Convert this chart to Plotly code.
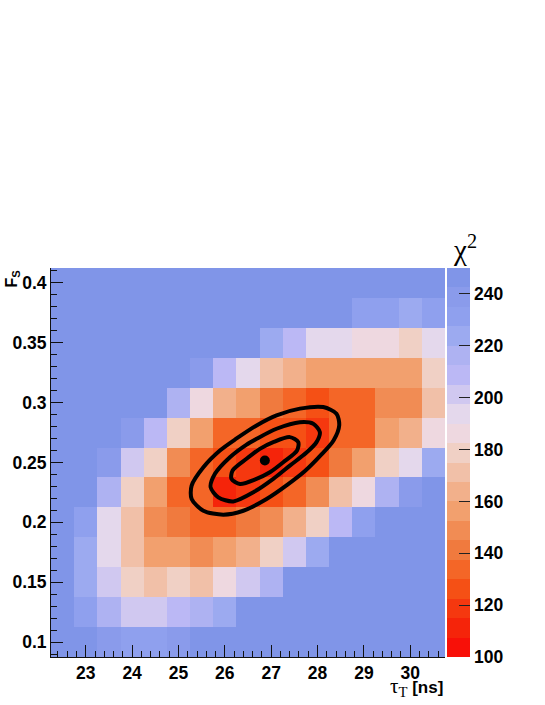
import plotly.graph_objects as go

tau_values = [22.5, 23.0, 23.5, 24.0, 24.5, 25.0, 25.5, 26.0, 26.5, 27.0, 27.5, 28.0, 28.5, 29.0, 29.5, 30.0, 30.5]
fs_values = [0.1, 0.125, 0.15, 0.175, 0.2, 0.225, 0.25, 0.275, 0.3, 0.325, 0.35, 0.375, 0.4]

chi2_row_010 = [246, 246, 239, 231, 231, 239, 246, 246, 246, 246, 246, 246, 246, 246, 246, 246, 246]
chi2_row_0125 = [246, 231, 216, 201, 201, 209, 216, 224, 246, 246, 246, 246, 246, 246, 246, 246, 246]
chi2_row_015 = [246, 224, 201, 179, 171, 179, 171, 186, 201, 216, 246, 246, 246, 246, 246, 246, 246]
chi2_row_0175 = [246, 224, 194, 171, 156, 156, 149, 156, 164, 179, 201, 224, 246, 246, 246, 246, 246]
chi2_row_020 = [246, 231, 194, 171, 149, 141, 134, 134, 141, 149, 164, 179, 209, 231, 246, 246, 246]
chi2_row_0225 = [246, 246, 216, 179, 156, 134, 134, 111, 119, 126, 134, 149, 171, 186, 216, 239, 246]
chi2_row_025 = [246, 246, 239, 201, 179, 149, 134, 126, 119, 111, 119, 126, 141, 156, 179, 194, 224]
chi2_row_0275 = [246, 246, 246, 239, 209, 179, 156, 134, 134, 126, 126, 119, 134, 134, 156, 164, 186]
chi2_row_030 = [246, 246, 246, 246, 246, 216, 186, 164, 156, 141, 134, 126, 134, 134, 149, 149, 171]
chi2_row_0325 = [246, 246, 246, 246, 246, 246, 239, 209, 194, 171, 164, 156, 156, 156, 156, 156, 179]
chi2_row_035 = [246, 246, 246, 246, 246, 246, 246, 246, 246, 224, 209, 194, 194, 186, 186, 179, 194]
chi2_row_0375 = [246, 246, 246, 246, 246, 246, 246, 246, 246, 246, 246, 246, 246, 231, 231, 224, 231]
chi2_row_040 = [246] * 17

chi2_grid = [chi2_row_010, chi2_row_0125, chi2_row_015, chi2_row_0175, chi2_row_020, chi2_row_0225,
             chi2_row_025, chi2_row_0275, chi2_row_030, chi2_row_0325, chi2_row_035, chi2_row_0375, chi2_row_040]

palette = ["#f81008", "#f5240a", "#f5380f", "#f55015", "#f46627", "#f07a3e", "#f18c54", "#f2a06e", "#f2b08b", "#f1c0a8",
           "#f0d0c5", "#eed8e0", "#e4d8ec", "#d0c8f0", "#bbb8f5", "#aeb2f2", "#9caaf0", "#8fa0ee", "#8a9beb", "#8095e8"]
colorscale = []
for k, c in enumerate(palette):
    colorscale.append([k / len(palette), c])
    colorscale.append([(k + 1) / len(palette), c])

outer_tau = [27.116, 27.619, 28.123, 28.409, 28.468, 28.345, 28.086, 27.741, 27.353, 26.901, 26.399, 25.968, 25.537, 25.284, 25.284, 25.537, 25.894, 26.254, 26.685, 27.116]
outer_fs = [.2894, .2950, .2963, .2908, .2810, .2684, .2567, .2433, .2315, .2195, .2097, .2064, .2097, .2195, .2307, .2460, .2600, .2701, .2810, .2894]
middle_tau = [27.116, 27.619, 27.907, 28.050, 27.978, 27.763, 27.403, 27.045, 26.642, 26.183, 25.860, 25.694, 25.787, 26.110, 26.470, 26.685, 27.116]
middle_fs = [.2782, .2837, .2824, .2754, .2670, .2583, .2474, .2363, .2257, .2175, .2209, .2293, .2405, .2544, .2650, .2698, .2782]
inner_tau = [27.045, 27.403, 27.584, 27.558, 27.261, 26.972, 26.683, 26.325, 26.144, 26.168, 26.468, 26.756, 27.045]
inner_fs = [.2670, .2712, .2670, .2600, .2502, .2418, .2363, .2321, .2363, .2433, .2531, .2614, .2670]
best_tau = [26.864]
best_fs = [0.2516]

font_bold = "Liberation Sans"
fig = go.Figure()
fig.add_trace(go.Heatmap(
    x=tau_values, y=fs_values, z=chi2_grid, zmin=100, zmax=250, colorscale=colorscale, hoverinfo="skip",
    colorbar=dict(
        x=1.0046, xanchor="left", y=0, yanchor="bottom", len=1, lenmode="fraction",
        thickness=22.5, thicknessmode="pixels", xpad=0, ypad=0, outlinewidth=0, borderwidth=0,
        tickmode="array", tickvals=[100, 120, 140, 160, 180, 200, 220, 240],
        ticks="inside", ticklen=11, tickwidth=1, tickcolor="#222",
        tickfont=dict(family=font_bold, size=17.5, color="black", weight="bold"),
    ),
))
for tx, ty in [(outer_tau, outer_fs), (middle_tau, middle_fs), (inner_tau, inner_fs)]:
    fig.add_trace(go.Scatter(x=tx, y=ty, mode="lines", line=dict(color="black", width=4, shape="spline", smoothing=0.8),
                             showlegend=False, hoverinfo="skip"))
fig.add_trace(go.Scatter(x=best_tau, y=best_fs, mode="markers", marker=dict(color="black", size=10),
                         showlegend=False, hoverinfo="skip"))

fig.update_layout(
    width=545, height=705, autosize=False,
    margin=dict(l=50.5, r=100.1, t=268, b=48.3),
    paper_bgcolor="white", plot_bgcolor="white", showlegend=False,
    xaxis=dict(range=[22.25, 30.75], tickmode="array", tickvals=[23, 24, 25, 26, 27, 28, 29, 30],
               ticks="inside", ticklen=12, tickwidth=1, tickcolor="#111", showgrid=False, zeroline=False,
               showline=True, linecolor="#111", linewidth=1,
               tickfont=dict(family=font_bold, size=17.5, color="black", weight="bold"),
               minor=dict(dtick=0.2, tick0=23, ticks="inside", ticklen=6, tickwidth=1, tickcolor="#111", showgrid=False)),
    yaxis=dict(range=[0.0875, 0.4125], tickmode="array", tickvals=[0.1, 0.15, 0.2, 0.25, 0.3, 0.35, 0.4],
               ticktext=["0.1", "0.15", "0.2", "0.25", "0.3", "0.35", "0.4"],
               ticks="inside", ticklen=12, tickwidth=1, tickcolor="#111", showgrid=False, zeroline=False,
               showline=True, linecolor="#111", linewidth=1,
               tickfont=dict(family=font_bold, size=17.5, color="black", weight="bold"),
               minor=dict(dtick=0.01, tick0=0.1, ticks="inside", ticklen=6, tickwidth=1, tickcolor="#111", showgrid=False)),
    shapes=[dict(type="line", xref="paper", yref="paper", x0=1.0612, x1=1.0612, y0=0, y1=1,
                 line=dict(color="#333", width=1))],
    annotations=[
        dict(text="<b>F<sub>S</sub></b>", xref="paper", yref="paper", x=-0.1, y=1.0, xanchor="center", yanchor="top",
             textangle=-90, showarrow=False, font=dict(family=font_bold, size=16, color="black")),
        dict(text="<span style='font-family:Liberation Serif;font-size:21px'>τ<sub>T</sub></span> <b>[ns]</b>", xref="paper", yref="paper", x=1.0, y=-0.078,
             xanchor="right", yanchor="middle", showarrow=False, font=dict(family=font_bold, size=17, color="black")),
        dict(text="χ<sup>2</sup>", xref="paper", yref="paper", x=1.05, y=1.0, xanchor="center", yanchor="bottom",
             showarrow=False, font=dict(family="Liberation Serif", size=29, color="black")),
    ],
)
fig.write_html("out.html", config={"displayModeBar": False}, post_script="document.body.style.margin='0';")
